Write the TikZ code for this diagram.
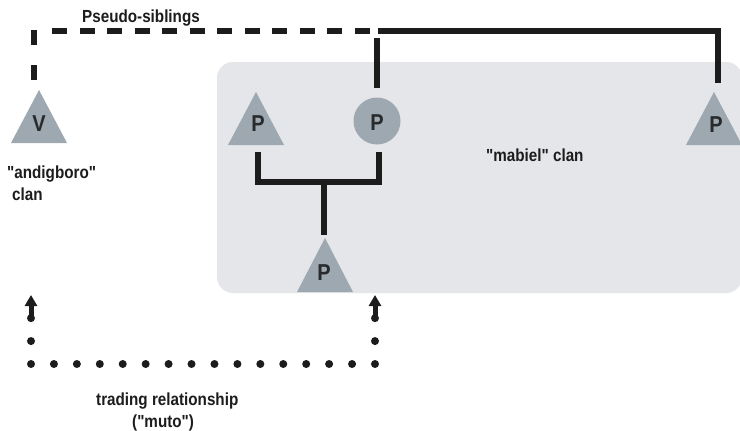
\documentclass[tikz,border=0pt]{standalone}
\usepackage{fontspec}
\setmainfont{Liberation Sans}[FakeStretch=0.87, Ligatures=TeXOff]
\usetikzlibrary{arrows.meta}
\definecolor{trif}{RGB}{158,168,176}
\definecolor{boxc}{RGB}{229,230,234}
\definecolor{ink}{RGB}{28,28,28}
\definecolor{letter}{RGB}{40,42,44}
\begin{document}
\begin{tikzpicture}[x=1pt,y=-1pt,
  lbl/.style={inner sep=0pt, text=ink, font=\fontsize{17.5}{20}\selectfont\bfseries},
  sym/.style={inner sep=0pt, text=letter, font=\fontsize{23}{24}\selectfont\bfseries},
  trishape/.style={fill=trif},
  solidline/.style={draw=ink, line width=6.5pt, line cap=butt, line join=miter},
  dashline/.style={draw=ink, line width=6.5pt, line cap=butt},
  dotline/.style={draw=ink, line width=8pt, line cap=round, dash pattern=on 0pt off 22.9333pt},
  uparrow/.style={draw=ink, line width=5pt, -{Triangle[width=12pt,length=11pt]}}
]
\useasboundingbox (0,0) rectangle (740,431);
\fill[white] (0,0) rectangle (740,431);
% clan box
\fill[boxc, rounded corners=16pt] (217,62) rectangle (742,293);
% triangles
\fill[trishape] (11,143) -- (39,90) -- (67,143) -- cycle;
\fill[trishape] (228,145) -- (256,92) -- (284,145) -- cycle;
\fill[trishape] (686,145) -- (714,92) -- (742,145) -- cycle;
\fill[trishape] (297,292) -- (325,238) -- (353,292) -- cycle;
% letters / persons
\node[sym] (v) at (39,124) {V};
\node[sym] (p1) at (258,123.5) {P};
\node[circle, fill=trif, minimum size=47pt, inner sep=0pt] (pc) at (377,121) {};
\node[sym] (p2) at (377,122.5) {P};
\node[sym] (p3) at (716,125) {P};
\node[sym] (p4) at (324,273) {P};
% coordinates
\coordinate (vtip) at (34,80);
\coordinate (vtop) at (34,28);
\coordinate (hstart) at (39.5,31);
\coordinate (jn) at (378,31);
\coordinate (cstart) at (377,38);
\coordinate (ctop) at (377,88);
\coordinate (rc) at (718,31);
\coordinate (rt) at (718,83);
\coordinate (fl) at (258,152);
\coordinate (flc) at (258,182);
\coordinate (frc) at (379,182);
\coordinate (fr) at (379,152);
\coordinate (fm) at (324,182);
\coordinate (fb) at (324,235);
\coordinate (dl) at (31,318.13);
\coordinate (dlc) at (31,364);
\coordinate (drc) at (375,364);
\coordinate (dr) at (375,318.13);
\coordinate (al) at (31,295);
\coordinate (ar) at (375,295);
% pseudo-sibling connectors
\draw[dashline, dash pattern=on 15pt off 20pt] (vtip) -- (vtop);
\draw[dashline, dash pattern=on 15pt off 12.5pt, dash phase=15pt] (hstart) -- (jn);
\draw[solidline] (jn) -- (rc) -- (rt);
\draw[solidline] (cstart) -- (ctop);
% descent
\draw[solidline] (fl) -- (flc) -- (frc) -- (fr);
\draw[solidline] (fm) -- (fb);
% trading relationship
\draw[dotline] (dl) -- (dlc) -- (drc) -- (dr);
\draw[uparrow] (dl) -- (al);
\draw[uparrow] (dr) -- (ar);
% labels
\node[lbl, anchor=base west] (ps) at (82,22) {Pseudo-siblings};
\node[lbl, anchor=base west] (and1) at (7,178) {"andigboro"};
\node[lbl, anchor=base west] (and2) at (12,200) {clan};
\node[lbl, anchor=base west] (mab) at (486,161) {"mabiel" clan};
\node[lbl, anchor=base west] (tr1) at (96,405) {trading relationship};
\node[lbl, anchor=base west] (tr2) at (132,427) {("muto")};
\end{tikzpicture}
\end{document}
